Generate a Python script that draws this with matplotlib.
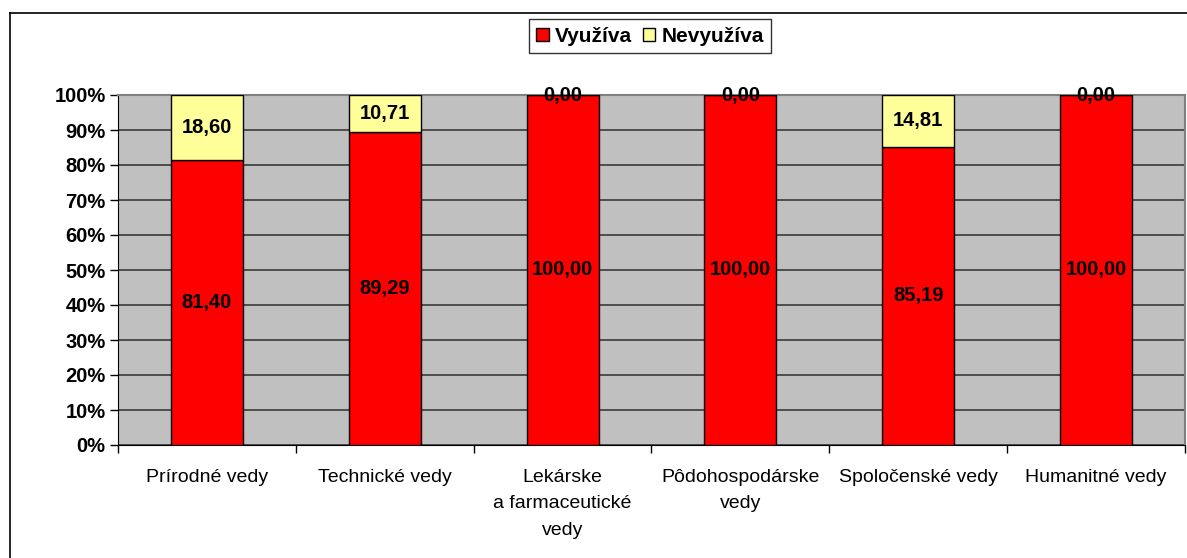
import matplotlib
matplotlib.use("Agg")
import matplotlib.pyplot as plt
from matplotlib.patches import Patch
from matplotlib.lines import Line2D
import numpy as np

categories = ["Prírodné vedy", "Technické vedy", "Lekárske\na farmaceutické\nvedy",
              "Pôdohospodárske\nvedy", "Spoločenské vedy", "Humanitné vedy"]
vyuziva = [81.40, 89.29, 100.00, 100.00, 85.19, 100.00]
nevyuziva = [18.60, 10.71, 0.00, 0.00, 14.81, 0.00]
series_names = ["Využíva", "Nevyužíva"]
yticks = [0, 10, 20, 30, 40, 50, 60, 70, 80, 90, 100]

plt.rcParams['font.family'] = ['Liberation Sans', 'DejaVu Sans']

W, H = 1187, 558
fig = plt.figure(figsize=(W / 100, H / 100), dpi=100)
fig.patch.set_facecolor("white")

# outer chart frame (cut at right/bottom)
fx0 = 10 / W
fy0 = 1 - 13 / H
fig.add_artist(Line2D([fx0, 1.0], [fy0, fy0], transform=fig.transFigure, color="black", lw=1.2))
fig.add_artist(Line2D([fx0, fx0], [0.0, fy0], transform=fig.transFigure, color="black", lw=1.2))

ax = fig.add_axes([118 / W, 1 - 445 / H, (1185 - 118) / W, (445 - 95) / H])
ax.set_facecolor("#C0C0C0")

x = np.arange(len(categories))
bw = 0.405
red = "#FF0000"
yellow = "#FFFF99"

ax.set_axisbelow(True)
ax.yaxis.grid(True, color="#3a3a3a", lw=1.2)
ax.bar(x, vyuziva, bw, color=red, edgecolor="black", lw=1, zorder=3)
ax.bar(x, nevyuziva, bw, bottom=vyuziva, color=yellow, edgecolor="black", lw=1, zorder=3)

for i in range(len(categories)):
    ax.text(x[i], vyuziva[i] / 2, f"{vyuziva[i]:.2f}".replace(".", ","),
            ha="center", va="center", fontsize=14.5, fontweight="bold", zorder=5)
    ax.text(x[i], vyuziva[i] + nevyuziva[i] / 2, f"{nevyuziva[i]:.2f}".replace(".", ","),
            ha="center", va="center", fontsize=14.5, fontweight="bold", zorder=5)

ax.set_xlim(-0.5, len(categories) - 0.5)
ax.set_ylim(0, 100)
ax.set_yticks(yticks)
ax.set_yticklabels([f"{t}%" for t in yticks], fontsize=14.5, fontweight="bold")
ax.tick_params(axis="y", direction="out", length=6, width=1, color="black", pad=3)

ax.set_xticks(x)
ax.set_xticklabels(categories, fontsize=14, linespacing=1.75)
ax.set_xticks(np.arange(-0.5, len(categories)), minor=True)
ax.tick_params(axis="x", which="major", length=0, pad=17)
ax.tick_params(axis="x", which="minor", direction="out", length=6, width=1, color="black")

for s in ["top", "right"]:
    ax.spines[s].set_color("#808080")
    ax.spines[s].set_linewidth(1.5)
ax.spines["left"].set_color("black")
ax.spines["bottom"].set_color("black")

handles = [Patch(facecolor=red, edgecolor="black", lw=1),
           Patch(facecolor=yellow, edgecolor="black", lw=1)]
leg = fig.legend(handles, series_names, loc="center", bbox_to_anchor=(650 / W, 1 - 36 / H),
                 ncol=2, frameon=True, fancybox=False, edgecolor="black",
                 prop={"family": "Liberation Sans", "weight": "bold", "size": 15},
                 handlelength=0.6, handleheight=0.6, handletextpad=0.3, columnspacing=0.5,
                 borderpad=0.35)
leg.get_frame().set_linewidth(1)

fig.savefig("out.png", dpi=100)
